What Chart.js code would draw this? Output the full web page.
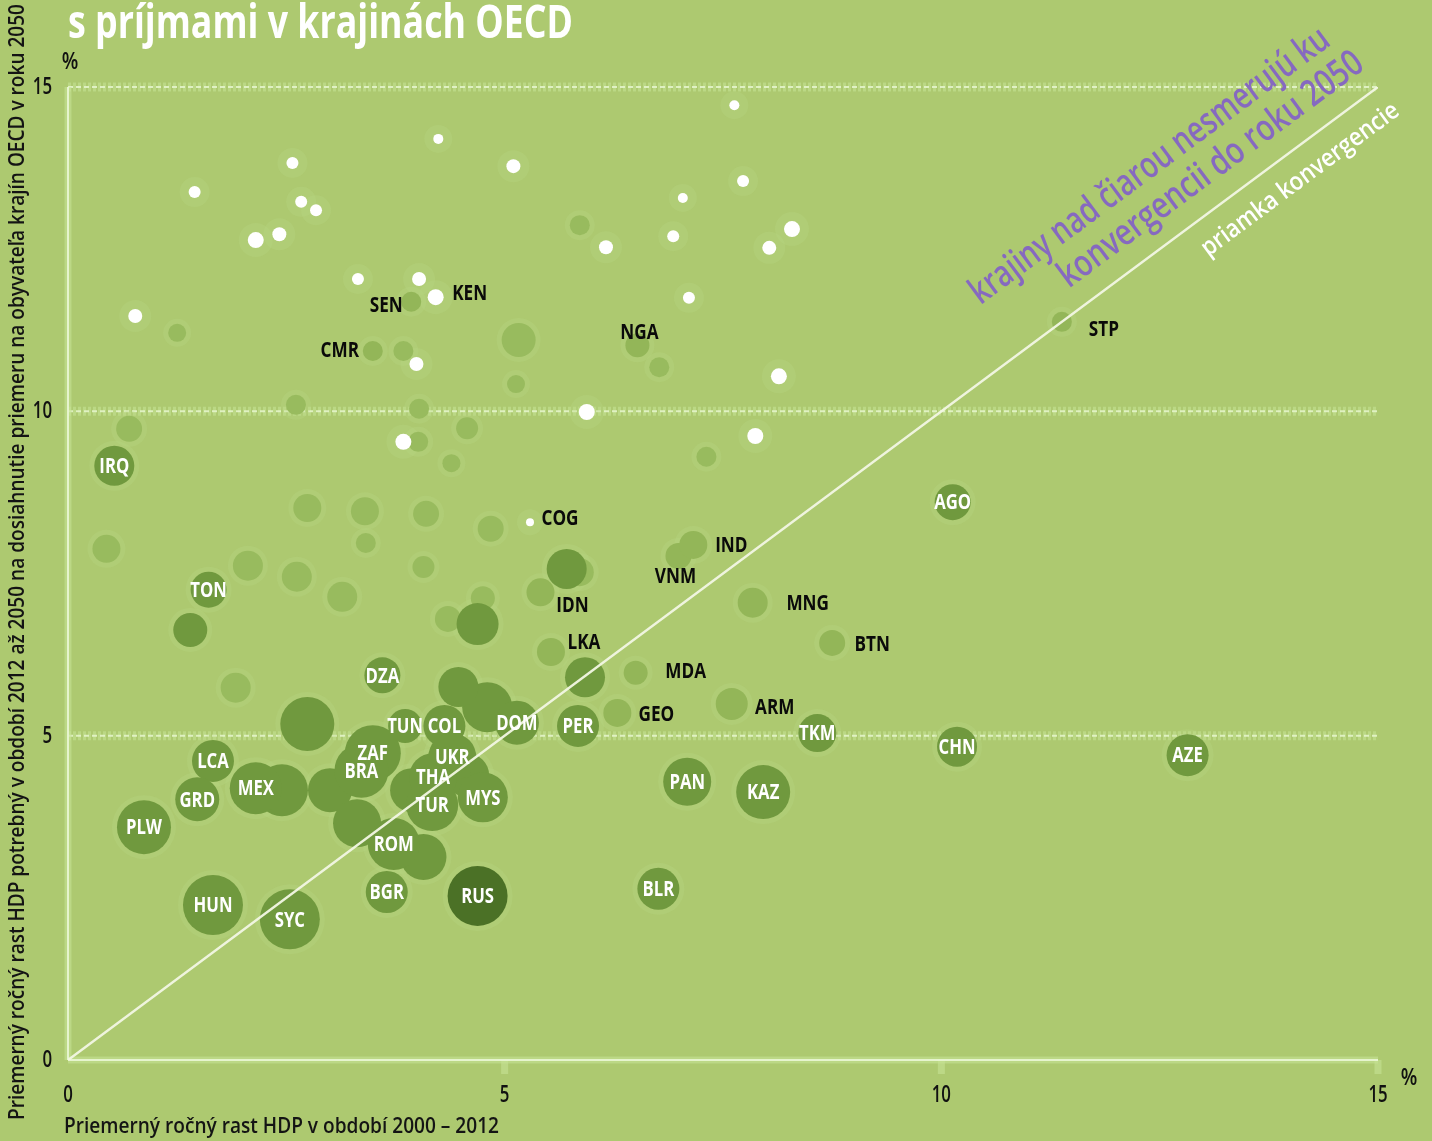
<!DOCTYPE html>
<html lang="sk">
<head>
<meta charset="utf-8">
<title>Rast HDP a konvergencia s krajinami OECD</title>
<script src="https://cdn.jsdelivr.net/npm/chart.js@4.4.1/dist/chart.umd.min.js"></script>
<style>
  html, body { margin: 0; padding: 0; background: #adc970; }
  canvas { display: block; }
</style>
</head>
<body>
<canvas id="konvergencia" width="1432" height="1141"></canvas>
<script>
// [kód krajiny, rast HDP 2000–2012 (%), potrebný rast 2012–2050 (%), veľkosť bubliny]
const tmaveKrajiny = [
  ['IRQ', 0.53, 9.16, 20], ['TON', 1.61, 7.25, 18], ['DZA', 3.60, 5.93, 18],
  ['LCA', 1.66, 4.61, 21], ['GRD', 1.48, 4.02, 22], ['MEX', 2.15, 4.19, 26],
  ['PLW', 0.87, 3.59, 27], ['HUN', 1.66, 2.39, 30], ['SYC', 2.54, 2.17, 30],
  ['ZAF', 3.49, 4.73, 28], ['BRA', 3.36, 4.46, 27], ['TUN', 3.86, 5.15, 17],
  ['COL', 4.31, 5.15, 21], ['UKR', 4.40, 4.67, 24], ['THA', 4.18, 4.36, 24],
  ['TUR', 4.17, 3.93, 26], ['MYS', 4.75, 4.05, 25], ['DOM', 5.14, 5.20, 22],
  ['PER', 5.84, 5.15, 21], ['ROM', 3.73, 3.33, 26], ['BGR', 3.65, 2.59, 21],
  ['RUS', 4.69, 2.53, 30], ['TKM', 8.58, 5.04, 19], ['CHN', 10.18, 4.83, 20],
  ['AZE', 12.82, 4.70, 21], ['AGO', 10.13, 8.60, 18], ['PAN', 7.09, 4.29, 24],
  ['KAZ', 7.96, 4.13, 27], ['BLR', 6.76, 2.64, 21]
];

const tmaveBezPopisu = [
  [2.45, 4.16, 26], [3.00, 4.16, 22], [3.31, 3.65, 24], [4.07, 3.13, 23],
  [4.80, 5.44, 25], [4.47, 5.75, 20], [2.74, 5.18, 27], [1.40, 6.63, 17],
  [4.69, 6.72, 21], [5.71, 7.57, 20], [5.92, 5.90, 20], [4.57, 4.39, 22],
  [3.94, 4.16, 22]
];

const svetleKrajiny = [
  ['SEN', 3.93, 11.69, 10], ['CMR', 3.49, 10.93, 10], ['NGA', 6.52, 11.02, 12],
  ['IDN', 5.41, 7.21, 14], ['LKA', 5.53, 6.29, 14], ['VNM', 6.99, 7.77, 13],
  ['IND', 7.16, 7.94, 14], ['MNG', 7.84, 7.05, 15], ['BTN', 8.75, 6.43, 13],
  ['MDA', 6.50, 5.97, 12], ['GEO', 6.29, 5.35, 14], ['ARM', 7.60, 5.49, 16],
  ['STP', 11.38, 11.38, 10]
];

const bieleKrajiny = [['KEN', 4.21, 11.76, 8], ['COG', 5.29, 8.29, 4]];

const bieleBezPopisu = [
  [1.45, 13.38, 6], [2.57, 13.83, 6], [2.67, 13.23, 6], [2.84, 13.10, 6],
  [2.15, 12.64, 8], [2.42, 12.73, 7], [3.32, 12.04, 6], [4.02, 12.04, 7],
  [0.77, 11.47, 7], [3.99, 10.73, 7], [3.84, 9.53, 8], [4.24, 14.20, 5],
  [5.10, 13.78, 7], [7.63, 14.72, 5], [7.73, 13.55, 6], [7.04, 13.29, 5],
  [8.29, 12.81, 8], [6.93, 12.70, 6], [6.16, 12.53, 7], [8.03, 12.52, 7],
  [7.11, 11.75, 6], [8.14, 10.54, 8], [5.94, 9.99, 8], [7.87, 9.62, 8]
];

const slabeBubliny = [
  [1.25, 11.21, 9], [3.84, 10.93, 10], [5.16, 11.10, 17], [5.13, 10.42, 9],
  [2.61, 10.10, 10], [4.02, 10.04, 10], [0.70, 9.73, 13], [4.57, 9.74, 11],
  [4.01, 9.53, 10], [4.39, 9.20, 9], [5.86, 12.87, 10], [6.77, 10.68, 10],
  [7.31, 9.30, 10], [2.74, 8.51, 14], [3.40, 8.46, 14], [4.10, 8.42, 13],
  [4.84, 8.19, 13], [0.44, 7.88, 14], [3.41, 7.97, 10], [2.06, 7.62, 15],
  [2.62, 7.45, 15], [3.14, 7.14, 15], [4.07, 7.60, 11], [4.75, 7.12, 12],
  [4.35, 6.80, 13], [1.92, 5.74, 15], [5.86, 7.52, 14]
];

const osTicks = [0, 5, 10, 15];
const priamka = [0, 15];

// umiestnenie čiernych popisov voči stredu bubliny (px)
const posunPopisu = {
  SEN: [-25, 3], CMR: [-33, -1], NGA: [2, -13], IDN: [32, 12], LKA: [33, -10],
  VNM: [-3, 20], IND: [38, 0], MNG: [55, 0], BTN: [40, 1], MDA: [50, -2],
  GEO: [39, 1], ARM: [43, 3], STP: [42, 7], KEN: [34, -4], COG: [30, -5]
};

const FARBA_POZADIA = '#adc970';
const FONT = '"Open Sans", "Noto Sans", sans-serif';

const bod = row => row.length === 4
  ? { x: row[1], y: row[2], r: row[3], kod: row[0] }
  : { x: row[0], y: row[1], r: row[2] };

const vsetky = [...tmaveKrajiny, ...tmaveBezPopisu, ...svetleKrajiny, ...slabeBubliny].map(bod);
const biele = [...bieleKrajiny, ...bieleBezPopisu].map(bod);
const halo = [
  ...vsetky.map(p => ({ x: p.x, y: p.y, r: p.r + 5 })),
  ...biele.map(p => ({ x: p.x, y: p.y, r: p.r + 9 }))
];

function text(ctx, str, x, y, o) {
  ctx.save();
  ctx.translate(x, y);
  ctx.rotate(o.angle || 0);
  ctx.font = o.font;
  let sx = o.squeeze || 0.8;
  if (o.width) sx = o.width / ctx.measureText(str).width;
  ctx.scale(sx, 1);
  ctx.fillStyle = o.color || '#111';
  ctx.textAlign = o.align || 'center';
  ctx.textBaseline = o.base || 'middle';
  ctx.fillText(str, 0, 0);
  ctx.restore();
}

function ciara(ctx, x1, y1, x2, y2) {
  ctx.beginPath();
  ctx.moveTo(x1, y1);
  ctx.lineTo(x2, y2);
  ctx.stroke();
}

const kresba = {
  id: 'kresba',
  beforeDraw(chart) {
    const { ctx, width, height } = chart;
    ctx.save();
    ctx.fillStyle = FARBA_POZADIA;
    ctx.fillRect(0, 0, width, height);
    ctx.restore();
  },
  beforeDatasetsDraw(chart) {
    const { ctx, chartArea: a, scales: { x, y } } = chart;
    ctx.save();
    // vodorovná mriežka
    osTicks.filter(v => v > 0).forEach(v => {
      const py = y.getPixelForValue(v);
      ctx.setLineDash([3, 2]);
      ctx.strokeStyle = 'rgba(196,226,146,0.6)';
      ctx.lineWidth = 9;
      ciara(ctx, a.left, py, a.right, py);
      ctx.setLineDash([5, 3]);
      ctx.strokeStyle = 'rgba(226,242,198,0.95)';
      ctx.lineWidth = 2;
      ciara(ctx, a.left, py, a.right, py);
    });
    // osi
    ctx.setLineDash([]);
    ctx.strokeStyle = 'rgba(198,227,148,0.6)';
    ctx.lineWidth = 7;
    ciara(ctx, a.left, a.top, a.left, a.bottom);
    ciara(ctx, a.left, a.bottom, a.right, a.bottom);
    osTicks.filter(v => v > 0).forEach(v => {
      const px = x.getPixelForValue(v);
      ciara(ctx, px, a.bottom, px, a.bottom + 14);
    });
    ctx.strokeStyle = 'rgba(232,245,210,0.95)';
    ctx.lineWidth = 2;
    ciara(ctx, a.left, a.top, a.left, a.bottom);
    ciara(ctx, a.left, a.bottom, a.right, a.bottom);
    ctx.restore();
  },
  afterDatasetsDraw(chart) {
    const { ctx, chartArea: a, scales: { x, y } } = chart;
    const popis = 'bold 22px ' + FONT;

    // biele popisy priamo v bublinách
    tmaveKrajiny.forEach(([kod, vx, vy]) => {
      text(ctx, kod, x.getPixelForValue(vx), y.getPixelForValue(vy) + 1,
        { font: popis, color: '#ffffff', squeeze: 0.76 });
    });
    // čierne popisy vedľa bubliny
    [...svetleKrajiny, ...bieleKrajiny].forEach(([kod, vx, vy]) => {
      const [dx, dy] = posunPopisu[kod] || [30, 0];
      text(ctx, kod, x.getPixelForValue(vx) + dx, y.getPixelForValue(vy) + dy + 1,
        { font: popis, color: '#0a0a0a', squeeze: 0.78 });
    });

    // popisy osí
    const cislo = '600 24px ' + FONT;
    osTicks.forEach(v => {
      text(ctx, String(v), a.left - 16, y.getPixelForValue(v), { font: cislo, align: 'right', squeeze: 0.7 });
      text(ctx, String(v), x.getPixelForValue(v), a.bottom + 35, { font: cislo, squeeze: 0.7 });
    });
    text(ctx, '%', a.left + 2, a.top - 25, { font: cislo, squeeze: 0.8 });
    text(ctx, '%', a.right + 31, a.bottom + 18, { font: cislo, squeeze: 0.8 });

    text(ctx, 'Priemerný ročný rast HDP v období 2000 – 2012', 64, 1127,
      { font: '600 22px ' + FONT, align: 'left', width: 435, color: '#141414' });
    text(ctx, 'Priemerný ročný rast HDP potrebný v období 2012 až 2050 na dosiahnutie priemeru na obyvateľa krajín OECD v roku 2050',
      18, 562, { font: '600 22px ' + FONT, angle: -Math.PI / 2, width: 1116, color: '#141414' });

    text(ctx, 's príjmami v krajinách OECD', 68, 38,
      { font: 'bold 47px ' + FONT, color: '#ffffff', align: 'left', base: 'alphabetic', width: 505 });

    // šikmé texty pozdĺž priamky konvergencie
    const uhol = Math.atan2(y.getPixelForValue(15) - y.getPixelForValue(0),
      x.getPixelForValue(15) - x.getPixelForValue(0));
    const fial = { font: '600 37px ' + FONT, color: '#8669c0', angle: uhol };
    text(ctx, 'krajiny nad čiarou nesmerujú ku', x.getPixelForValue(12.39), y.getPixelForValue(13.78),
      { ...fial, width: 438 });
    text(ctx, 'konvergencii do roku 2050', x.getPixelForValue(13.09), y.getPixelForValue(13.72),
      { ...fial, width: 370 });
    text(ctx, 'priamka konvergencie', x.getPixelForValue(14.11), y.getPixelForValue(13.57),
      { font: '600 25px ' + FONT, color: '#ffffff', angle: uhol, width: 240 });
  }
};

new Chart(document.getElementById('konvergencia'), {
  type: 'bubble',
  data: {
    datasets: [
      {
        type: 'line',
        data: priamka.map(v => ({ x: v, y: v })),
        borderColor: 'rgba(242,247,228,0.95)',
        borderWidth: 2.5,
        pointRadius: 0,
        order: 0
      },
      {
        data: biele,
        backgroundColor: '#ffffff',
        borderWidth: 0,
        order: 1
      },
      {
        data: tmaveKrajiny.map(bod),
        backgroundColor: tmaveKrajiny.map(r => r[0] === 'RUS' ? '#4b7126' : '#70993e'),
        borderWidth: 0,
        order: 2
      },
      {
        data: tmaveBezPopisu.map(bod),
        backgroundColor: '#70993e',
        borderWidth: 0,
        order: 3
      },
      {
        data: svetleKrajiny.map(bod),
        backgroundColor: '#93b658',
        borderWidth: 0,
        order: 4
      },
      {
        data: slabeBubliny.map(bod),
        backgroundColor: '#98bb5e',
        borderWidth: 0,
        order: 5
      },
      {
        data: halo,
        backgroundColor: 'rgba(184,214,132,0.32)',
        borderWidth: 0,
        order: 6
      }
    ]
  },
  plugins: [kresba],
  options: {
    responsive: false,
    animation: false,
    events: [],
    layout: { autoPadding: false, padding: { left: 68, right: 54, top: 87, bottom: 81 } },
    plugins: {
      legend: { display: false },
      tooltip: { enabled: false }
    },
    scales: {
      x: { type: 'linear', min: 0, max: 15, display: false },
      y: { type: 'linear', min: 0, max: 15, display: false }
    }
  }
});
</script>
</body>
</html>
